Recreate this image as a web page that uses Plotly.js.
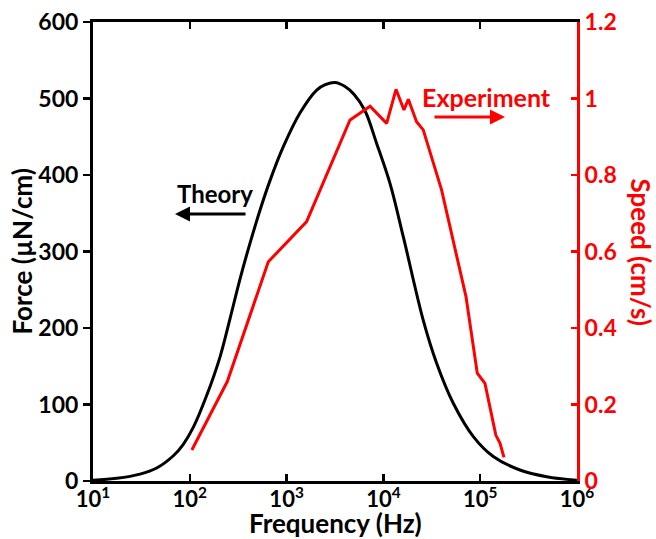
<!DOCTYPE html>
<html>
<head>
<meta charset="utf-8">
<script src="https://cdn.plot.ly/plotly-3.0.1.min.js"></script>
<style>
  html, body { margin: 0; padding: 0; background: #fff; }
  #chart { width: 656px; height: 539px; }
</style>
</head>
<body>
<div id="chart"></div>
<script>
// Theory curve (force, µN/cm) vs frequency (Hz)
const theoryFreq = [10, 17.6, 30.6, 45.5, 67.6, 85.7, 108.6, 149.6, 205, 260, 330, 419, 531, 675, 925,
  1374, 2046, 2512, 3162, 3981, 5012, 6457, 8531, 11695, 16069, 25823, 35481, 52723, 84918, 136458, 257040, 486407, 1000000];
const theoryForce = [1, 3.5, 9, 17, 33, 48, 70, 112, 162, 212, 264, 311, 354, 393, 437,
  481, 511, 518, 521, 516, 505, 484, 441, 389, 319, 210, 154, 101.6, 58, 32, 14.4, 5.6, 1];

// Experiment (speed, cm/s) vs frequency (Hz)
const expFreq = [105, 244, 647, 1610, 4520, 7280, 10800, 13500, 16300, 18100, 22000, 25800,
  39900, 71300, 93300, 112000, 145000, 160000, 176000];
const expSpeed = [0.081, 0.26, 0.573, 0.678, 0.944, 0.980, 0.935, 1.024, 0.97, 0.998, 0.939, 0.918,
  0.761, 0.482, 0.282, 0.255, 0.120, 0.099, 0.062];

// Axis ticks
const xTickVals = [10, 100, 1000, 10000, 100000, 1000000];
const xTickText = ['10<sup>1</sup>', '10<sup>2</sup>', '10<sup>3</sup>', '10<sup>4</sup>', '10<sup>5</sup>', '10<sup>6</sup>'];
const yTickVals = [0, 100, 200, 300, 400, 500, 600];
const y2TickVals = [0, 0.2, 0.4, 0.6, 0.8, 1.0, 1.2];
const y2TickText = ['0', '0.2', '0.4', '0.6', '0.8', '1', '1.2'];

const FONT = 'Lato, "Open Sans", sans-serif';
const RED = '#ff0000';

const traces = [
  {
    x: theoryFreq, y: theoryForce, type: 'scatter', mode: 'lines',
    line: { color: '#000000', width: 3, shape: 'spline', smoothing: 1 },
    name: 'Theory', hoverinfo: 'skip'
  },
  {
    x: expFreq, y: expSpeed, type: 'scatter', mode: 'lines', yaxis: 'y2',
    line: { color: RED, width: 3 },
    name: 'Experiment', hoverinfo: 'skip'
  }
];

const layout = {
  width: 656, height: 539,
  margin: { l: 93, r: 79, t: 22, b: 58 },
  paper_bgcolor: '#ffffff', plot_bgcolor: '#ffffff',
  showlegend: false,
  font: { family: FONT, size: 23, color: '#000' },
  xaxis: {
    type: 'log', range: [1, 6],
    tickvals: xTickVals, ticktext: xTickText,
    showline: true, linecolor: '#000', linewidth: 3,
    mirror: 'ticks', ticks: 'inside', ticklen: 7, tickwidth: 2.5, tickcolor: '#000',
    ticklabelstandoff: -3,
    showgrid: false, zeroline: false,
    tickfont: { family: FONT, size: 22, color: '#000', weight: 'bold' }
  },
  yaxis: {
    range: [0, 600],
    tickvals: yTickVals,
    showline: true, linecolor: '#000', linewidth: 3,
    ticks: 'outside', ticklen: 7, tickwidth: 2.5, tickcolor: '#000',
    showgrid: false, zeroline: false,
    tickfont: { family: FONT, size: 23, color: '#000', weight: 'bold' }
  },
  yaxis2: {
    overlaying: 'y', side: 'right', range: [0, 1.2],
    tickvals: y2TickVals, ticktext: y2TickText,
    showline: true, linecolor: RED, linewidth: 3,
    ticks: 'inside', ticklen: 6, tickwidth: 2.5, tickcolor: RED,
    showgrid: false, zeroline: false,
    tickfont: { family: FONT, size: 23, color: RED, weight: 'bold' }
  },
  annotations: [
    { xref: 'paper', yref: 'paper', x: 0.5, y: 0, yshift: -42,
      text: '<b>Frequency (Hz)</b>', showarrow: false,
      font: { family: FONT, size: 26, color: '#000' }, xanchor: 'center', yanchor: 'middle' },
    { xref: 'paper', yref: 'paper', x: 0, xshift: -72, y: 0.5, textangle: -90,
      text: '<b>Force (µN/cm)</b>', showarrow: false,
      font: { family: FONT, size: 26, color: '#000' }, xanchor: 'center', yanchor: 'middle' },
    { xref: 'paper', yref: 'paper', x: 1, xshift: 64, y: 0.5, textangle: 90,
      text: '<b>Speed (cm/s)</b>', showarrow: false,
      font: { family: FONT, size: 26, color: RED }, xanchor: 'center', yanchor: 'middle' },
    { xref: 'paper', yref: 'paper', x: (215 - 93) / 484, y: (481 - 193) / 459,
      text: '<b>Theory</b>', showarrow: false,
      font: { family: FONT, size: 24, color: '#000' }, xanchor: 'center', yanchor: 'middle' },
    { xref: 'paper', yref: 'paper', x: (175 - 93) / 484, y: (481 - 214) / 459,
      axref: 'pixel', ayref: 'pixel', ax: 72, ay: 0, text: '', showarrow: true,
      arrowhead: 2, arrowsize: 1, arrowwidth: 3, arrowcolor: '#000' },
    { xref: 'paper', yref: 'paper', x: (486 - 93) / 484, y: (481 - 97) / 459,
      text: '<b>Experiment</b>', showarrow: false,
      font: { family: FONT, size: 25, color: RED }, xanchor: 'center', yanchor: 'middle' },
    { xref: 'paper', yref: 'paper', x: (505 - 93) / 484, y: (481 - 117) / 459,
      axref: 'pixel', ayref: 'pixel', ax: -72, ay: 0, text: '', showarrow: true,
      arrowhead: 2, arrowsize: 1, arrowwidth: 3, arrowcolor: RED }
  ]
};

Plotly.newPlot('chart', traces, layout, { displayModeBar: false, staticPlot: true });
</script>
</body>
</html>
